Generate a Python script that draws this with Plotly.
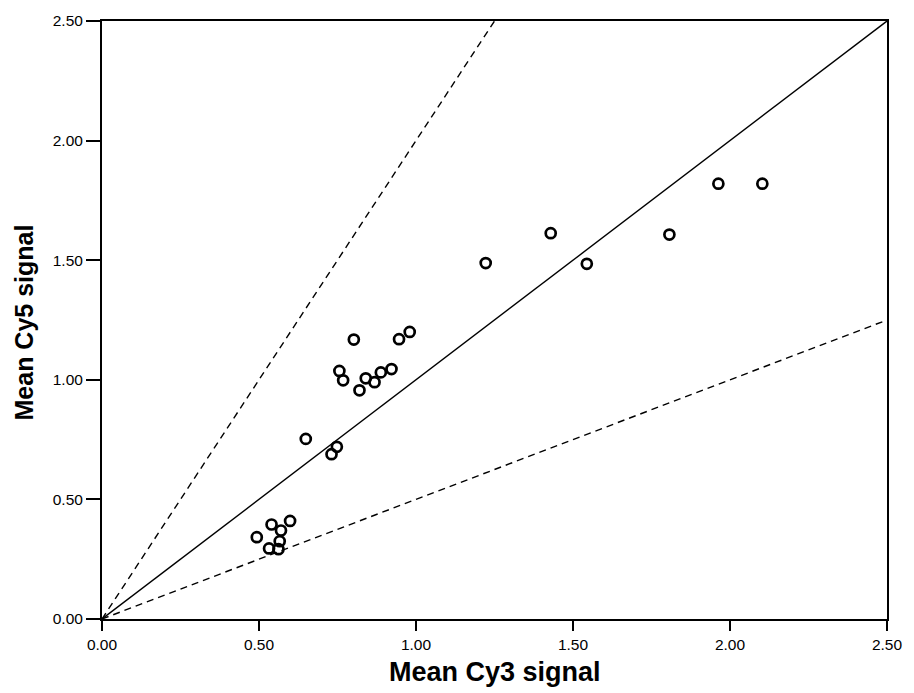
import plotly.graph_objects as go

# Data
cy3_signal = [0.493, 0.540, 0.532, 0.562, 0.566, 0.570, 0.599, 0.649, 0.731, 0.748,
              0.756, 0.768, 0.802, 0.820, 0.840, 0.868, 0.888, 0.922, 0.946, 0.980,
              1.222, 1.429, 1.544, 1.807, 1.963, 2.103]
cy5_signal = [0.342, 0.395, 0.295, 0.292, 0.325, 0.370, 0.410, 0.753, 0.689, 0.720,
              1.037, 0.998, 1.168, 0.956, 1.006, 0.990, 1.031, 1.045, 1.170, 1.200,
              1.488, 1.613, 1.485, 1.607, 1.820, 1.820]

# Reference lines through the origin: y = slope * x
ref_slopes = [1.0, 2.0, 0.5]
ref_dashes = ["solid", "7px,5px", "7px,5px"]
axis_max = 2.5
tick_vals = [0.0, 0.5, 1.0, 1.5, 2.0, 2.5]
tick_text = ["0.00", "0.50", "1.00", "1.50", "2.00", "2.50"]

fig = go.Figure()

for s, d in zip(ref_slopes, ref_dashes):
    x_end = min(axis_max, axis_max / s)
    fig.add_trace(go.Scatter(
        x=[0, x_end], y=[0, s * x_end], mode="lines",
        line=dict(color="black", width=1.4, dash=d),
        hoverinfo="skip", showlegend=False))

fig.add_trace(go.Scatter(
    x=cy3_signal, y=cy5_signal, mode="markers",
    marker=dict(symbol="circle-open", size=10, color="black",
                line=dict(color="black", width=2.7)),
    showlegend=False))

font_family = "Arial, Liberation Sans, sans-serif"

axis_common = dict(
    range=[0, axis_max], tickvals=tick_vals, ticktext=tick_text,
    showgrid=False, zeroline=False, showline=True, mirror=True,
    linecolor="black", linewidth=2, ticks="outside", tickcolor="black",
    tickwidth=2, tickfont=dict(family=font_family, size=15.5, color="black"),
)

fig.update_layout(
    width=914, height=693,
    margin=dict(l=102, r=19, t=14, b=74),
    paper_bgcolor="white", plot_bgcolor="white",
    xaxis=dict(**axis_common, ticklen=10),
    yaxis=dict(**axis_common, ticklen=14),
    annotations=[
        dict(text="<b>Mean Cy3 signal</b>", x=0.5, y=-0.088, xref="paper", yref="paper",
             xanchor="center", yanchor="middle", showarrow=False,
             font=dict(family=font_family, size=27, color="black")),
        dict(text="<b>Mean Cy5 signal</b>", x=-0.100, y=0.495, xref="paper", yref="paper",
             xanchor="center", yanchor="middle", textangle=-90, showarrow=False,
             font=dict(family=font_family, size=25, color="black")),
    ],
)

fig.write_html("out.html", config={"displayModeBar": False},
               post_script="document.body.style.margin='0';document.body.style.overflow='hidden';")
